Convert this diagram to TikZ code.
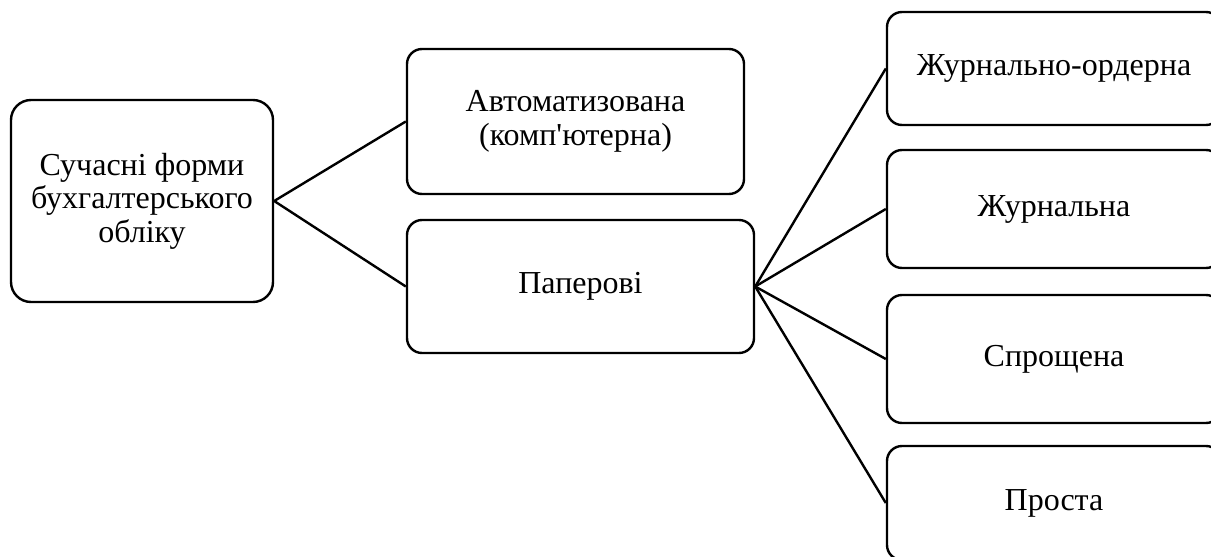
\documentclass[tikz,border=0pt]{standalone}
\usepackage{fontspec}
\setmainfont{Liberation Serif}[Ligatures=TeXOff]
\usepackage{tikz}

\begin{document}
\begin{tikzpicture}[x=1pt,y=-1pt,
		box/.style={draw,line width=2.4pt,rounded corners=15pt,align=center,
			font=\fontsize{32}{33.5}\selectfont,inner sep=2pt},
		link/.style={line width=2.4pt}]
			\useasboundingbox (0,0) rectangle (1211,557);
			\clip (0,0) rectangle (1211,557);
			% left part
			\node[box,rounded corners=20pt,minimum width=262pt,minimum height=202pt] (forms) at (142,201) {Сучасні форми\\бухгалтерського\\обліку};
			\node[box,minimum width=337pt,minimum height=145pt] (auto) at (575.5,121.5) {Автоматизована\\(комп'ютерна)};
			\node[box,minimum width=347pt,minimum height=133pt] (paper) at (580.5,286.5) {Паперові};
			% paper forms
			\node[box,minimum width=334pt,minimum height=113pt] (journord) at (1054,68.5) {Журнально-ордерна};
			\node[box,minimum width=334pt,minimum height=118pt] (journ) at (1054,209) {Журнальна};
			\node[box,minimum width=334pt,minimum height=128pt] (simpl) at (1054,359) {Спрощена};
			\node[box,minimum width=334pt,minimum height=114pt] (plain) at (1054,503) {Проста};
			\draw[link] (forms.east) -- (auto.west);
			\draw[link] (forms.east) -- (paper.west);
			\draw[link] (paper.east) -- (journord.west);
			\draw[link] (paper.east) -- (journ.west);
			\draw[link] (paper.east) -- (simpl.west);
			\draw[link] (paper.east) -- (plain.west);
		\end{tikzpicture}
\end{document}
